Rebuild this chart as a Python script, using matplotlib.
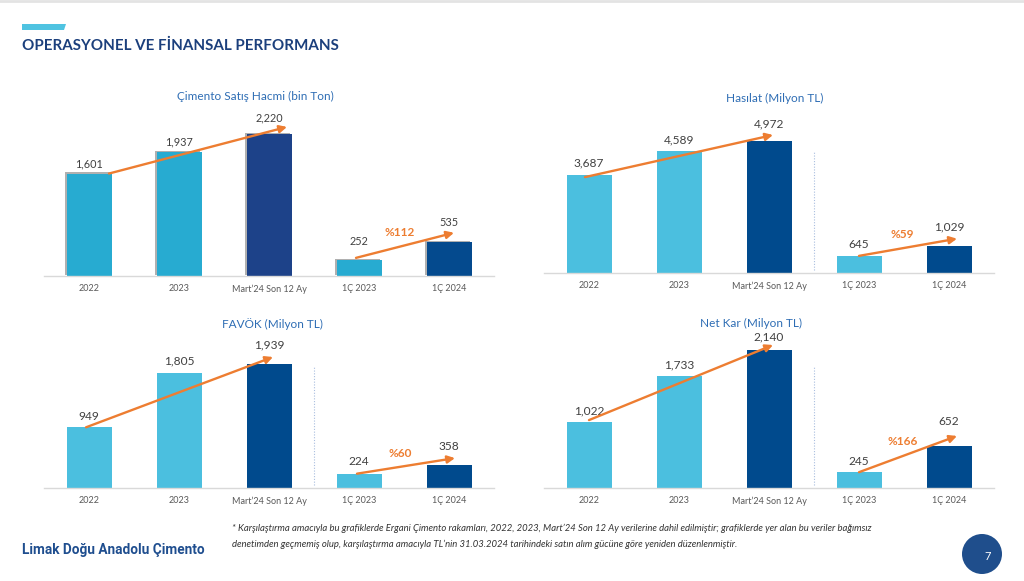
import matplotlib.pyplot as plt
import matplotlib.patheffects as pe
from matplotlib.patches import Polygon, Circle, Arc

plt.rcParams['font.family'] = ['Lato', 'DejaVu Sans']

W, H = 1024, 581

categories = ["2022", "2023", "Mart’24 Son 12 Ay", "1Ç 2023", "1Ç 2024"]
sales_volume = [1601, 1937, 2220, 252, 535]
revenue = [3687, 4589, 4972, 645, 1029]
ebitda = [949, 1805, 1939, 224, 358]
net_profit = [1022, 1733, 2140, 245, 652]
titles = ["Çimento Satış Hacmi (bin Ton)", "Hasılat (Milyon TL)",
          "FAVÖK (Milyon TL)", "Net Kar (Milyon TL)"]
growth_labels = ["%112", "%59", "%60", "%166"]

ORANGE = '#ED7D31'
TITLE_BLUE = '#2E6DB4'

# gap: pixel distance from bar top to centre of its value label
panels = [
    dict(values=sales_volume, title=titles[0], growth=growth_labels[0],
         left=44, base=276, ytop=2500, tpos=(255, 96), fs=7.8,
         colors=['#27ABD1', '#27ABD1', '#1D4289', '#27ABD1', '#044A8E'],
         shadow=True, divider=False, gap=[10, 10, 16, 18, 19],
         arrow1=(20, 0, 18, 7), arrow2=(-3, 2, 5, 9)),
    dict(values=revenue, title=titles[1], growth=growth_labels[1],
         left=544, base=273, ytop=6026, tpos=(775, 98), fs=8.6,
         colors=['#4BBFDF', '#4BBFDF', '#004A8D', '#4BBFDF', '#004A8D'],
         shadow=False, divider=True, gap=[12, 11, 17, 11, 19],
         arrow1=(-4, -2, 4, 6), arrow2=(0, 0, 8, 7)),
    dict(values=ebitda, title=titles[2], growth=growth_labels[2],
         left=44, base=488, ytop=2502, tpos=(272, 324), fs=8.6,
         colors=['#4BBFDF', '#4BBFDF', '#004A8D', '#4BBFDF', '#004A8D'],
         shadow=False, divider=True, gap=[11, 12, 19, 12, 19],
         arrow1=(-3, 0, 4, 7), arrow2=(-2, 0, 6, 7)),
    dict(values=net_profit, title=titles[3], growth=growth_labels[3],
         left=544, base=488, ytop=2481, tpos=(751, 323), fs=8.6,
         colors=['#4BBFDF', '#4BBFDF', '#004A8D', '#4BBFDF', '#004A8D'],
         shadow=False, divider=True, gap=[11, 11, 13, 11, 24],
         arrow1=(0, 2, 4, 5), arrow2=(0, 0, 8, 10)),
]

fig = plt.figure(figsize=(W / 100, H / 100), dpi=100)

# decoration layer in pixel coordinates
deco = fig.add_axes([0, 0, 1, 1])
deco.set_xlim(0, W)
deco.set_ylim(H, 0)
deco.axis('off')
deco.plot([0, W], [1, 1], color='#E3E3E3', lw=2)
deco.add_patch(Polygon([(22, 24), (66, 24), (64, 30), (22, 30)], closed=True,
                       color='#4FC3E1', lw=0))
deco.text(22, 46, "OPERASYONEL VE FİNANSAL PERFORMANS", fontsize=10.9,
          fontweight='bold', color='#1B3F7C', va='center', ha='left')
deco.text(22, 550, "Limak Doğu Anadolu Çimento", fontsize=9.8, fontweight='bold',
          color='#1F4E8F', va='center', ha='left',
          family=['Liberation Sans Narrow', 'Roboto', 'DejaVu Sans'])
deco.text(232, 528, "* Karşılaştırma amacıyla bu grafiklerde Ergani Çimento rakamları, 2022, 2023, "
          "Mart’24 Son 12 Ay verilerine dahil edilmiştir; grafiklerde yer alan bu veriler bağımsız",
          fontsize=6.8, style='italic', color='#333333', va='center', ha='left')
deco.text(232, 544, "denetimden geçmemiş olup, karşılaştırma amacıyla TL’nin 31.03.2024 tarihindeki "
          "satın alım gücüne göre yeniden düzenlenmiştir.",
          fontsize=6.8, style='italic', color='#333333', va='center', ha='left')
deco.add_patch(Circle((982, 554), 20, color='#1F4E8C', lw=0))
deco.add_patch(Arc((992, 566), 52, 44, theta1=100, theta2=170, color='white', lw=2))
deco.text(988, 557, "7", fontsize=8, color='white', ha='center', va='center')

for p in panels:
    vals = p['values']
    ah = 160
    ax = fig.add_axes([p['left'] / W, (H - p['base']) / H, 450 / W, ah / H])
    ax.set_xlim(-0.5, 4.5)
    ax.set_ylim(0, p['ytop'])
    ax.patch.set_alpha(0)
    x = list(range(len(vals)))
    bars = ax.bar(x, vals, width=0.5, color=p['colors'], zorder=2)
    if p['shadow']:
        for b in bars:
            b.set_path_effects([pe.SimplePatchShadow(offset=(-1.4, 0.9), shadow_rgbFace='#3A3A3A',
                                                     alpha=0.4), pe.Normal()])
    for s in ['top', 'right', 'left']:
        ax.spines[s].set_visible(False)
    ax.spines['bottom'].set_color('#D9D9D9')
    ax.spines['bottom'].set_linewidth(1)
    ax.set_yticks([])
    ax.set_xticks(x)
    ax.set_xticklabels(categories, fontsize=6.5, color='#595959')
    ax.tick_params(axis='x', length=0, pad=6)

    for i, v in enumerate(vals):
        ax.annotate(f"{v:,}", (i, v), xytext=(0, p['gap'][i] * 0.72), textcoords='offset points',
                    ha='center', va='center', fontsize=p['fs'], color='#404040')

    if p['divider']:
        ax.axvline(2.5, ymin=0.02, ymax=0.76, color='#A9BEDF', lw=0.8,
                   linestyle=(0, (1, 1.5)))

    dx = 1 / 90.0
    dy = p['ytop'] / ah

    def arrow(i0, i1, offs):
        x0 = i0 + offs[0] * dx
        y0 = vals[i0] + offs[1] * dy
        x1 = i1 + offs[2] * dx
        y1 = vals[i1] + offs[3] * dy
        ax.annotate("", xy=(x1, y1), xytext=(x0, y0),
                    arrowprops=dict(arrowstyle='-|>', color=ORANGE, lw=1.7,
                                    mutation_scale=11, shrinkA=0, shrinkB=0),
                    zorder=4)
        return x0, y0, x1, y1

    arrow(0, 2, p['arrow1'])
    x0, y0, x1, y1 = arrow(3, 4, p['arrow2'])
    ax.annotate(p['growth'], ((x0 + x1) / 2, (y0 + y1) / 2), xytext=(-4, 9),
                textcoords='offset points', ha='center', va='center',
                fontsize=8.5, fontweight='bold', color=ORANGE)

    deco.text(p['tpos'][0], p['tpos'][1], p['title'], fontsize=8.5,
              color=TITLE_BLUE, ha='center', va='center')

fig.savefig('out.png', dpi=100, facecolor='white')
